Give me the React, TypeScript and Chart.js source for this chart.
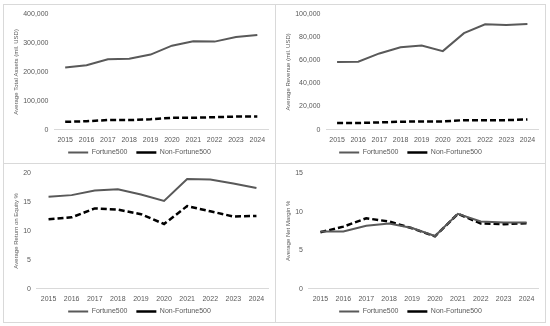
import React, { useEffect, useRef } from "react";
import { Chart, registerables } from "chart.js";

Chart.register(...registerables);

const years = ["2015", "2016", "2017", "2018", "2019", "2020", "2021", "2022", "2023", "2024"];

const assetsF500 = [215000, 223000, 244000, 246000, 260000, 291000, 306000, 305000, 321000, 328000];
const assetsNon = [27000, 29000, 33000, 33000, 36000, 41000, 41000, 43000, 45000, 45000];

const revenueF500 = [58600, 58900, 66000, 71400, 72800, 68000, 83600, 91200, 90700, 91500];
const revenueNon = [5700, 5700, 6200, 6800, 7100, 7100, 8200, 8200, 8200, 8800];

const roeF500 = [15.9, 16.2, 17.0, 17.2, 16.3, 15.2, 19.0, 18.9, 18.2, 17.45];
const roeNon = [12.0, 12.35, 13.9, 13.7, 12.9, 11.2, 14.3, 13.4, 12.5, 12.6];

const marginF500 = [7.42, 7.42, 8.17, 8.47, 7.88, 6.83, 9.72, 8.72, 8.6, 8.6];
const marginNon = [7.33, 8.05, 9.14, 8.72, 7.84, 6.79, 9.72, 8.47, 8.38, 8.5];

const seriesNames = ["Fortune500", "Non-Fortune500"];

const FONT = "'Liberation Sans', Arial, sans-serif";
const TEXT = "#595959";

type PanelProps = {
  left: number;
  top: number;
  width: number;
  height: number;
  a: number[];
  b: number[];
  title: string;
  max: number;
  step: number;
  comma: boolean;
};

function Panel(p: PanelProps) {
  const ref = useRef<HTMLCanvasElement | null>(null);
  useEffect(() => {
    if (!ref.current) return;
    const chart = new Chart(ref.current, {
      type: "line",
      data: {
        labels: years,
        datasets: [
          {
            label: seriesNames[0],
            data: p.a,
            borderColor: "#595959",
            backgroundColor: "#595959",
            borderWidth: 2,
            pointRadius: 0,
            tension: 0,
          },
          {
            label: seriesNames[1],
            data: p.b,
            borderColor: "#000000",
            backgroundColor: "#000000",
            borderWidth: 2.5,
            borderDash: [6, 3],
            pointRadius: 0,
            tension: 0,
          },
        ],
      },
      options: {
        animation: false,
        responsive: false,
        devicePixelRatio: 1,
        layout: { padding: { top: 4, right: 8, left: 8, bottom: -2 } },
        plugins: {
          tooltip: { enabled: false },
          legend: {
            position: "bottom",
            labels: {
              usePointStyle: true,
              pointStyle: "line",
              pointStyleWidth: 20,
              boxHeight: 7,
              padding: 5,
              color: TEXT,
              font: { family: FONT, size: 7 },
              generateLabels: (c: any) => {
                const items = Chart.defaults.plugins.legend.labels.generateLabels(c);
                return items.map((it: any, i: number) => ({
                  ...it,
                  text: i === 0 ? it.text + "  " : it.text,
                }));
              },
            },
          },
        },
        scales: {
          x: {
            offset: true,
            grid: { display: false, drawTicks: false, offset: true },
            border: { display: true, color: "#d9d9d9", width: 1 },
            ticks: { color: TEXT, font: { family: FONT, size: 7 }, padding: 6, maxRotation: 0 },
            afterFit: (s: any) => {
              s.height -= 6;
            },
          },
          y: {
            min: 0,
            max: p.max,
            grid: { display: false, drawTicks: false },
            border: { display: false },
            ticks: {
              stepSize: p.step,
              color: TEXT,
              font: { family: FONT, size: 7 },
              padding: 6,
              callback: (v: any) => (p.comma ? Number(v).toLocaleString("en-US") : String(v)),
            },
            title: {
              display: true,
              text: p.title,
              color: TEXT,
              font: { family: FONT, size: 6 },
              padding: { top: 2, bottom: 2 },
            },
            afterFit: (s: any) => {
              s.width -= 5;
            },
          },
        },
      },
    });
    return () => chart.destroy();
  }, []);
  return (
    <div style={{ position: "absolute", left: p.left, top: p.top, width: p.width, height: p.height }}>
      <canvas ref={ref} width={p.width} height={p.height} style={{ position: "absolute", left: 0, top: 0 }} />
      <div
        style={{
          position: "absolute",
          left: 0,
          top: 0,
          width: p.width,
          height: p.height,
          boxSizing: "border-box",
          border: "1px solid #d9d9d9",
          pointerEvents: "none",
        }}
      />
    </div>
  );
}

export default function App() {
  return (
    <div style={{ position: "absolute", left: 0, top: 0, width: 550, height: 326, background: "#fff" }}>
      <Panel left={3} top={4} width={273} height={160} a={assetsF500} b={assetsNon}
        title="Average Total Assets (mil. USD)" max={400000} step={100000} comma={true} />
      <Panel left={275} top={4} width={271} height={160} a={revenueF500} b={revenueNon}
        title="Average Revenue (mil. USD)" max={100000} step={20000} comma={true} />
      <Panel left={3} top={163} width={273} height={160} a={roeF500} b={roeNon}
        title="Average Return on Equity %" max={20} step={5} comma={false} />
      <Panel left={275} top={163} width={271} height={160} a={marginF500} b={marginNon}
        title="Average Net Margin %" max={15} step={5} comma={false} />
    </div>
  );
}
